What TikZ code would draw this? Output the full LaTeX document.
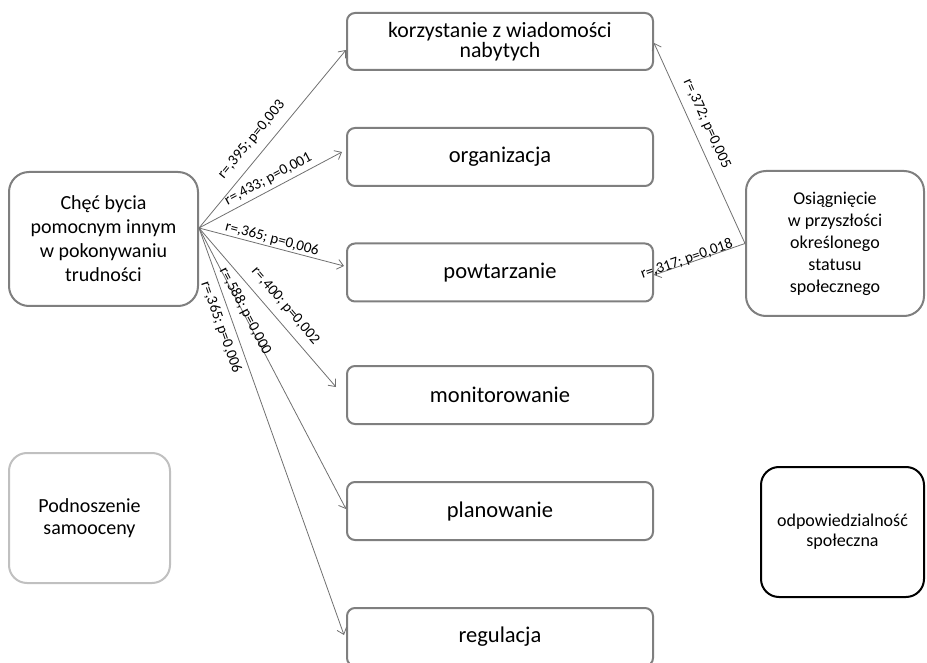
\documentclass[tikz,border=0pt]{standalone}
\usepackage{fontspec}
\setmainfont{Carlito}
\usetikzlibrary{arrows.meta}
\definecolor{bord}{RGB}{127,127,127}
\definecolor{arr}{RGB}{112,112,112}
\definecolor{lbord}{RGB}{192,192,192}
\begin{document}
\begin{tikzpicture}[x=1pt,y=-1pt,
  box/.style={draw=bord, line width=2pt, rounded corners=8pt, minimum width=306pt, minimum height=58pt, inner sep=0pt, align=center, font=\fontsize{22.5}{24}\selectfont},
  bigbox/.style={draw=bord, line width=2pt, rounded corners=20pt, inner sep=0pt, align=center},
  conn/.style={draw=arr, line width=0.8pt, -{Straight Barb[length=6pt,width=10pt]}},
  lab/.style={sloped, inner sep=1pt, font=\fontsize{15}{17}\selectfont}]
\useasboundingbox (0,0) rectangle (927,663);

\node[box, minimum height=57pt, font=\fontsize{21.8}{20}\selectfont] (kor) at (500,41.5) {korzystanie z wiadomości\\nabytych};
\node[box] (org) at (500,157) {organizacja};
\node[box] (pow) at (500,272.5) {powtarzanie};
\node[box] (mon) at (500,395) {monitorowanie};
\node[box] (pla) at (500,511) {planowanie};
\node[box] (reg) at (500,637) {regulacja};

\node[bigbox, minimum width=189pt, minimum height=134pt, font=\fontsize{20}{24}\selectfont] (che) at (103.5,239) {Chęć bycia\\pomocnym innym\\w pokonywaniu\\trudności};
\node[bigbox, minimum width=178pt, minimum height=145pt, font=\fontsize{18}{22}\selectfont] (osi) at (835,243.5) {Osiągnięcie\\w przyszłości\\określonego\\statusu\\społecznego};
\node[bigbox, draw=lbord, rounded corners=18pt, minimum width=161pt, minimum height=130pt, font=\fontsize{20}{22.5}\selectfont] (pod) at (89.5,518) {Podnoszenie\\samooceny};
\node[bigbox, draw=black, rounded corners=18pt, minimum width=163pt, minimum height=130pt, font=\fontsize{18}{20}\selectfont] (odp) at (842.5,532) {odpowiedzialność\\społeczna};

\coordinate (hs) at ([yshift=11pt]che.east);

\draw[conn] (hs) -- ([yshift=-8.5pt]kor.west) node[lab, pos=0.44, above=8pt] {r=,395; p=0,003};
\draw[conn] (hs) -- ([xshift=-4pt,yshift=5pt]org.west) node[lab, pos=0.52, above=3pt] {r=,433; p=0,001};
\draw[conn] (hs) -- ([xshift=-2pt,yshift=6.5pt]pow.west) node[lab, pos=0.49, above] {r=,365; p=0,006};
\draw[conn] (hs) -- ([xshift=-10pt,yshift=8pt]mon.west) node[lab, pos=0.55, above=7pt] {r=,400; p=0,002};
\draw[conn] (hs) -- ([yshift=2pt]pla.west) node[lab, pos=0.30, above=-5.5pt] {r=,588; p=0,000};
\draw[conn] (hs) -- ([xshift=-2pt,yshift=2pt]reg.west) node[lab, pos=0.234, below=5pt] {r=,365; p=0,006};

\draw[conn] (osi.west) -- ([yshift=-1.5pt]kor.east) node[lab, pos=0.566, above=7pt] {r=,372; p=0,005};
\draw[conn] (osi.west) -- ([yshift=-2.5pt]pow.east) node[lab, pos=0.626, above=-3.75pt] {r=,317; p=0,018};
\end{tikzpicture}
\end{document}
